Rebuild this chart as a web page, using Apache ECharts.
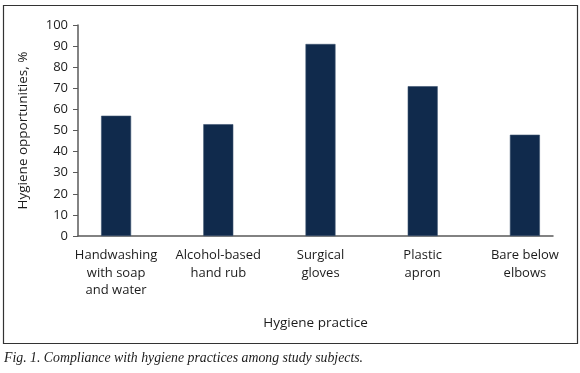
<!DOCTYPE html>
<html lang="en">
<head>
    <meta charset="UTF-8">
    <script src="https://cdn.jsdelivr.net/npm/echarts@6/dist/echarts.min.js"></script>
    <title>Hygiene practice</title>
    <style>
        html, body { margin: 0; padding: 0; background: #fff; }
        #chart { width: 580px; height: 373px; }
    </style>
</head>
<body>
<div id="chart"></div>
<script type="text/javascript">
    var practices = ['Handwashing\nwith soap\nand water', 'Alcohol-based\nhand rub', 'Surgical\ngloves', 'Plastic\napron', 'Bare below\nelbows'];
    var opportunities = [57, 53, 91, 71, 48];
    var yTicks = [0, 10, 20, 30, 40, 50, 60, 70, 80, 90, 100];

    var myChart = echarts.init(document.getElementById('chart'));
    var font = '"Open Sans", sans-serif';
    var option = {
        animation: false,
        grid: [
            // frame with the visible axes
            {left: 78, right: 27, top: 25, bottom: 137},
            // bars sit in a slightly wider band than the axis line
            {left: 65, right: 4, top: 25, bottom: 137}
        ],
        xAxis: [
            {
                gridIndex: 0,
                type: 'category',
                data: practices,
                axisLine: {lineStyle: {color: '#5a5a5a', width: 1.5}},
                axisTick: {show: false},
                axisLabel: {show: false},
                name: 'Hygiene practice',
                nameLocation: 'middle',
                nameGap: 80,
                nameTextStyle: {color: '#1c1c1c', fontFamily: font, fontSize: 13.5}
            },
            {
                gridIndex: 1,
                type: 'category',
                data: practices,
                axisLine: {show: false},
                axisTick: {show: false},
                axisLabel: {
                    interval: 0,
                    margin: 11,
                    color: '#1c1c1c',
                    fontFamily: font,
                    fontSize: 13,
                    lineHeight: 17.5
                }
            }
        ],
        yAxis: [
            {
                gridIndex: 0,
                type: 'value',
                min: yTicks[0],
                max: yTicks[yTicks.length - 1],
                interval: 10,
                splitLine: {show: false},
                axisLine: {show: true, lineStyle: {color: '#5a5a5a', width: 1.5}},
                axisTick: {show: true, length: 5, lineStyle: {color: '#5a5a5a'}},
                axisLabel: {margin: 10, color: '#1c1c1c', fontFamily: font, fontSize: 13},
                name: 'Hygiene opportunities, %',
                nameLocation: 'middle',
                nameGap: 48,
                nameTextStyle: {color: '#1c1c1c', fontFamily: font, fontSize: 13.5}
            },
            {
                gridIndex: 1,
                type: 'value',
                min: 0,
                max: 100,
                show: false,
                splitLine: {show: false}
            }
        ],
        series: [
            {
                name: 'Hygiene opportunities',
                type: 'bar',
                xAxisIndex: 1,
                yAxisIndex: 1,
                data: opportunities,
                barWidth: 30,
                itemStyle: {color: '#102a4c', borderColor: '#3c5470', borderWidth: 0.6}
            }
        ],
        graphic: [
            {
                type: 'rect',
                shape: {x: 3.5, y: 5.5, width: 574, height: 338},
                style: {fill: 'none', stroke: '#333', lineWidth: 1.2},
                silent: true
            },
            {
                type: 'text',
                left: 4,
                top: 351,
                style: {
                    text: 'Fig. 1. Compliance with hygiene practices among study subjects.',
                    font: 'italic 13.8px "Liberation Serif", serif',
                    fill: '#1c1c1c'
                }
            }
        ]
    };
    myChart.setOption(option);
</script>
</body>
</html>
